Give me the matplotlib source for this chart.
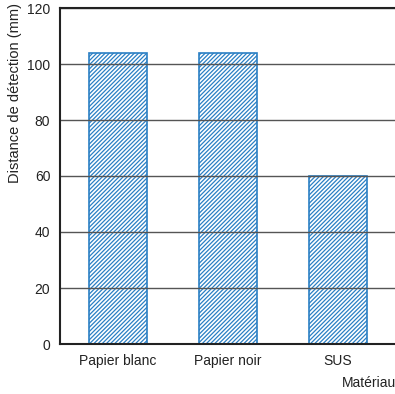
import matplotlib
matplotlib.use("Agg")
import matplotlib.pyplot as plt

categories = ["Papier blanc", "Papier noir", "SUS"]
values = [104, 104, 60]
yticks = [0, 20, 40, 60, 80, 100, 120]
ylabel = "Distance de détection (mm)"
xlabel = "Matériau"

plt.rcParams['font.family'] = ['Liberation Sans', 'DejaVu Sans']
plt.rcParams['hatch.linewidth'] = 0.9
blue = '#2a7fc4'

fig = plt.figure(figsize=(3.95, 3.94), dpi=100)
W, H = 395, 394
left, right, top, bottom = 60, 425, 8, 344
ax = fig.add_axes([left / W, 1 - bottom / H, (right - left) / W, (bottom - top) / H])

x = list(range(len(categories)))
ax.bar(x, values, width=0.527, facecolor='white', edgecolor=blue, hatch='////////', linewidth=1.2, zorder=2)

ax.set_ylim(0, 120)
ax.set_xlim(-0.527, (right - 118) / 110)
ax.set_yticks(yticks)
ax.set_xticks(x)
ax.set_xticklabels(categories, fontsize=10, color='#222222')
ax.tick_params(axis='y', labelsize=10, length=0, pad=7, labelcolor='#222222')
ax.tick_params(axis='x', length=0, pad=7)
ax.set_axisbelow(False)
ax.yaxis.grid(True, color='#555555', linewidth=1.0, zorder=3)
for s in ['right']:
    ax.spines[s].set_visible(False)
for s in ['left', 'top', 'bottom']:
    ax.spines[s].set_color('#222222')
    ax.spines[s].set_linewidth(1.5)
    ax.spines[s].set_zorder(4)
fig.text(15 / W, 1 - 93 / H, ylabel, fontsize=10.5, color='#222222', rotation=90, va='center', ha='center')
fig.text(342 / W, 1 - 383 / H, xlabel, fontsize=10, color='#222222', va='center', ha='left')

fig.savefig("out.png", dpi=100)
